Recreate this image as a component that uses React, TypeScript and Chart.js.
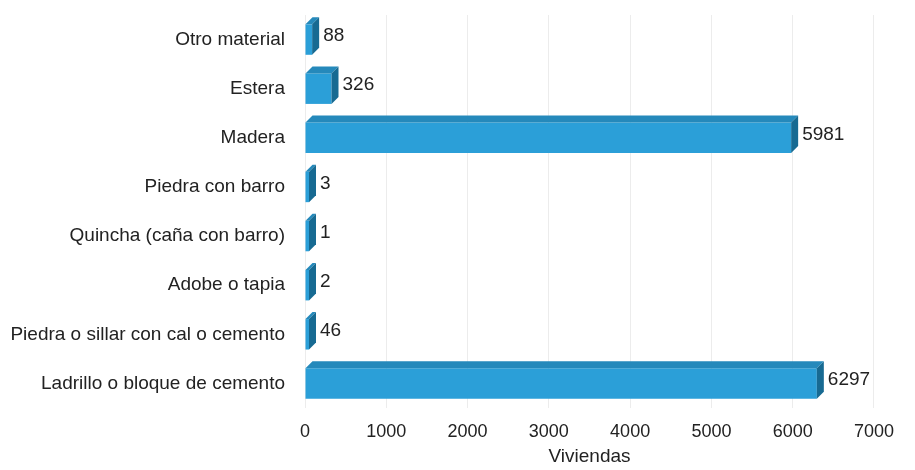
import React, { useEffect, useRef } from "react";
import { Chart, registerables } from "chart.js";

Chart.register(...registerables);

const categories = [
  "Otro material",
  "Estera",
  "Madera",
  "Piedra con barro",
  "Quincha (caña con barro)",
  "Adobe o tapia",
  "Piedra o sillar con cal o cemento",
  "Ladrillo o bloque de cemento",
];
const viviendas = [88, 326, 5981, 3, 1, 2, 46, 6297];
const xTicks = [0, 1000, 2000, 3000, 4000, 5000, 6000, 7000];

const FONT = "'Liberation Sans', Arial, sans-serif";
const DEPTH = 7;

const bar3d = {
  id: "bar3d",
  afterDatasetsDraw(chart: any) {
    const ctx = chart.ctx;
    const meta = chart.getDatasetMeta(0);
    ctx.save();
    meta.data.forEach((el: any, i: number) => {
      const p = el.getProps(["x", "y", "base", "height"], true);
      const x0 = p.base, x1 = p.x, top = p.y - p.height / 2, bot = p.y + p.height / 2;
      ctx.fillStyle = "#2589bb";
      ctx.beginPath();
      ctx.moveTo(x0, top);
      ctx.lineTo(x0 + DEPTH, top - DEPTH);
      ctx.lineTo(x1 + DEPTH, top - DEPTH);
      ctx.lineTo(x1, top);
      ctx.closePath();
      ctx.fill();
      ctx.fillStyle = "#176a92";
      ctx.beginPath();
      ctx.moveTo(x1, top);
      ctx.lineTo(x1 + DEPTH, top - DEPTH);
      ctx.lineTo(x1 + DEPTH, bot - DEPTH);
      ctx.lineTo(x1, bot);
      ctx.closePath();
      ctx.fill();
      ctx.fillStyle = "#222";
      ctx.font = "19px " + FONT;
      ctx.textAlign = "left";
      ctx.textBaseline = "middle";
      ctx.fillText(String(viviendas[i]), x1 + DEPTH + 4, p.y - DEPTH / 2);
    });
    ctx.restore();
  },
};

export default function App() {
  const ref = useRef<HTMLCanvasElement>(null);
  useEffect(() => {
    const chart = new Chart(ref.current!, {
      type: "bar",
      data: {
        labels: categories,
        datasets: [
          {
            data: viviendas,
            backgroundColor: "#2b9fd8",
            barPercentage: 0.62,
            categoryPercentage: 1,
            minBarLength: 4,
          },
        ],
      },
      plugins: [bar3d],
      options: {
        indexAxis: "y",
        animation: false,
        responsive: false,
        layout: { padding: { top: 7, right: 22, bottom: 0, left: 0 } },
        plugins: { legend: { display: false }, tooltip: { enabled: false } },
        scales: {
          x: {
            min: 0,
            max: 7000,
            afterBuildTicks: (axis: any) => {
              axis.ticks = xTicks.map((v) => ({ value: v }));
            },
            afterFit: (axis: any) => {
              axis.height = 60;
            },
            grid: { color: "#ececec", drawTicks: false },
            border: { display: false },
            ticks: {
              color: "#222",
              font: { family: FONT, size: 18 },
              padding: 13,
              callback: (v: any) => String(v),
            },
            title: {
              display: true,
              text: "Viviendas",
              color: "#222",
              font: { family: FONT, size: 19 },
              padding: { top: 0, bottom: 0 },
            },
          },
          y: {
            afterFit: (axis: any) => {
              axis.width = 297;
              axis.paddingTop = 0;
              axis.paddingBottom = 0;
            },
            grid: { display: false },
            border: { display: false },
            ticks: { color: "#222", font: { family: FONT, size: 19 }, padding: 12 },
          },
        },
      },
    } as any);
    return () => chart.destroy();
  }, []);
  return <canvas ref={ref} width={899} height={460} style={{ display: "block" }} />;
}
